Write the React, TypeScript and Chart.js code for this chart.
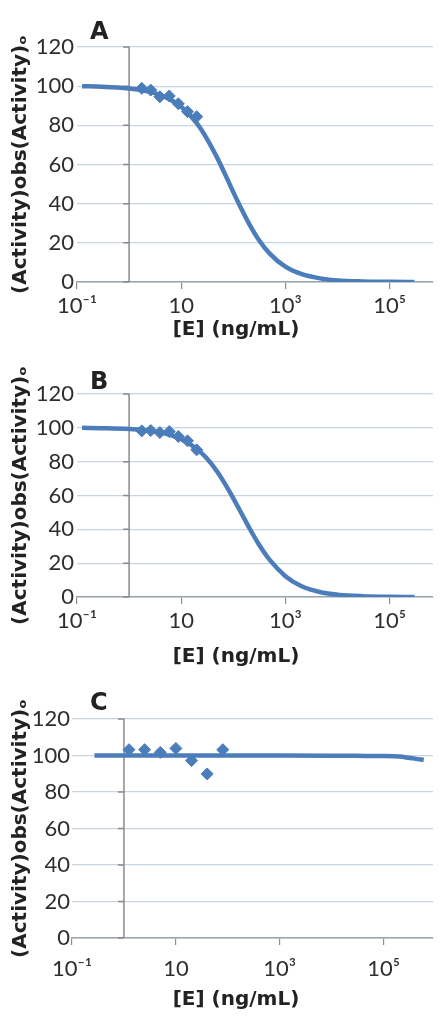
import { useEffect, useRef } from "react"
import { Chart, registerables, type ChartConfiguration, type Plugin } from "chart.js"

Chart.register(...registerables)

const BLUE = "#4a7dba"
const FONT = "Lato, 'Open Sans', 'DejaVu Sans', sans-serif"
const TITLE_FONT = "'DejaVu Sans', 'Open Sans', sans-serif"

// measured points, [E] in ng/mL
const concAB = [1.75, 2.6, 3.9, 5.9, 8.8, 13.2, 19.8]
const activityA = [98.9, 98, 94.6, 95, 91, 87, 84.4]
const activityB = [98.2, 98.4, 97.2, 97.8, 94.9, 92.3, 87]
const concC = [1.25, 2.5, 5, 10, 20, 40, 80]
const activityC = [103.2, 103.2, 101.7, 103.9, 97.2, 89.9, 103.2]

// fitted curves
const fitConcAB = [0.125, 0.3, 1, 2, 3, 5, 10, 20, 30, 50, 80, 100, 150, 200, 300, 500, 1000, 2000, 5000, 10000, 30000, 100000, 300000]
const fitA = [100, 99.7, 98.8, 97.7, 96.6, 94.4, 89.5, 81, 73.9, 63, 51.5, 45.9, 36.2, 29.8, 22, 14.5, 7.8, 4.1, 1.7, 0.8, 0.3, 0.1, 0]
const fitB = [100, 99.8, 99.3, 98.6, 97.9, 96.6, 93.3, 87.5, 82.4, 73.7, 63.6, 58.3, 48.3, 41.2, 31.8, 21.9, 12.3, 6.5, 2.7, 1.4, 0.5, 0.1, 0]
const fitConcC = [0.27, 1, 10, 100, 1000, 10000, 30000, 100000, 200000, 300000, 400000, 590000]
const fitC = [100, 100, 100, 100, 100, 99.9, 99.8, 99.7, 99.4, 98.8, 98.3, 97.5]

const xTickValues = [0.1, 10, 1000, 100000]
const xTickLabels = ["10⁻¹", "10", "10³", "10⁵"]

const yTitle = "(Activity)obs(Activity)ₒ"
const xTitle = "[E] (ng/mL)"

const toPoints = (xs: number[], ys: number[]) => xs.map((x, i) => ({ x, y: ys[i] }))

// vertical axis crosses the x axis at [E] = 1
const crossAxis: Plugin = {
  id: "crossAxis",
  beforeDatasetsDraw(chart) {
    const { ctx } = chart
    const x = chart.scales.x
    const y = chart.scales.y
    const px = x.getPixelForValue(1)
    ctx.save()
    ctx.strokeStyle = "#8a8a8a"
    ctx.lineWidth = 1.5
    ctx.beginPath()
    ctx.moveTo(px, y.getPixelForValue(0))
    ctx.lineTo(px, y.getPixelForValue(120))
    ctx.stroke()
    ctx.beginPath()
    y.ticks.forEach((t) => {
      const py = y.getPixelForValue(t.value)
      ctx.moveTo(px - 6, py)
      ctx.lineTo(px, py)
    })
    ctx.stroke()
    ctx.restore()
  },
}

// x title sits off-centre in the original, so draw it by hand
const xTitlePlugin: Plugin = {
  id: "xTitle",
  afterDraw(chart, _args, opts: any) {
    const { ctx, chartArea } = chart
    ctx.save()
    ctx.font = `bold 20px ${TITLE_FONT}`
    ctx.fillStyle = "#222"
    ctx.textAlign = "center"
    ctx.textBaseline = "middle"
    ctx.fillText(xTitle, opts.centerX, chartArea.bottom + opts.offset)
    ctx.restore()
  },
}

interface PanelProps {
  letter: string
  top: number
  height: number
  padTop: number
  yWidth: number
  yLabelPad: number
  xHeight: number
  xTickPad: number
  titleOffset: number
  xMax: number
  letterTop: number
  concs: number[]
  values: number[]
  fitConcs: number[]
  fitValues: number[]
}

function Panel(p: PanelProps) {
  const canvasRef = useRef<HTMLCanvasElement>(null)

  useEffect(() => {
    if (!canvasRef.current) return
    const config: ChartConfiguration<"scatter"> = {
      type: "scatter",
      data: {
        datasets: [
          {
            data: toPoints(p.concs, p.values),
            pointStyle: "rectRot",
            pointRadius: 6,
            pointBorderWidth: 1,
            backgroundColor: BLUE,
            borderColor: BLUE,
            showLine: false,
          },
          {
            data: toPoints(p.fitConcs, p.fitValues),
            showLine: true,
            pointRadius: 0,
            borderWidth: 4.5,
            borderColor: BLUE,
            backgroundColor: BLUE,
            cubicInterpolationMode: "monotone",
          },
        ],
      },
      options: {
        animation: false,
        responsive: true,
        maintainAspectRatio: false,
        layout: { padding: { top: p.padTop, left: 0, right: 0, bottom: 0 } },
        plugins: {
          legend: { display: false },
          tooltip: { enabled: false },
          // @ts-ignore custom plugin options
          xTitle: { centerX: 236, offset: p.titleOffset },
        },
        scales: {
          x: {
            type: "logarithmic",
            min: 0.1,
            max: p.xMax,
            afterBuildTicks: (s) => {
              s.ticks = xTickValues.map((v) => ({ value: v }))
            },
            afterFit: (s) => {
              s.height = p.xHeight
            },
            ticks: {
              autoSkip: false,
              maxRotation: 0,
              padding: p.xTickPad,
              color: "#2e2e2e",
              font: { family: FONT, size: 22 },
              callback: (_v, i) => xTickLabels[i],
            },
            grid: { drawOnChartArea: false, drawTicks: true, tickLength: 7, color: "#8a8a8a", lineWidth: 1.2 },
            border: { color: "#9aa3ad", width: 1.5 },
          },
          y: {
            min: 0,
            max: 120,
            afterFit: (s) => {
              s.width = p.yWidth
            },
            ticks: {
              stepSize: 20,
              padding: p.yLabelPad,
              color: "#2e2e2e",
              font: { family: FONT, size: 22 },
            },
            grid: { color: "#c9d4e1", lineWidth: 1.2, drawTicks: false },
            border: { display: false },
            title: {
              display: true,
              text: yTitle,
              color: "#222",
              font: { family: TITLE_FONT, size: 20, weight: "bold" },
              padding: { top: 9, bottom: 0 },
            },
          },
        },
      },
      plugins: [crossAxis, xTitlePlugin],
    }
    const chart = new Chart(canvasRef.current, config)
    return () => chart.destroy()
  }, [])

  return (
    <>
      <div style={{ position: "absolute", left: 0, top: p.top, width: 440, height: p.height }}>
        <canvas ref={canvasRef} />
      </div>
      <div
        style={{
          position: "absolute",
          left: 90,
          top: p.letterTop,
          fontFamily: TITLE_FONT,
          fontWeight: "bold",
          fontSize: 24,
          lineHeight: "28px",
          color: "#222",
        }}
      >
        {p.letter}
      </div>
    </>
  )
}

export default function App() {
  useEffect(() => {
    document.body.style.margin = "0"
  }, [])

  return (
    <div style={{ position: "relative", width: 440, height: 1024, overflow: "hidden" }}>
      <Panel letter="A" top={0} height={340} padTop={47} yWidth={77} yLabelPad={3} xHeight={58} xTickPad={4} titleOffset={48}
        xMax={680000} letterTop={17} concs={concAB} values={activityA} fitConcs={fitConcAB} fitValues={fitA} />
      <Panel letter="B" top={340} height={340} padTop={54} yWidth={77} yLabelPad={3} xHeight={83} xTickPad={4} titleOffset={60}
        xMax={680000} letterTop={367} concs={concAB} values={activityB} fitConcs={fitConcAB} fitValues={fitB} />
      <Panel letter="C" top={680} height={344} padTop={39} yWidth={72} yLabelPad={2} xHeight={86} xTickPad={11} titleOffset={62}
        xMax={890000} letterTop={688} concs={concC} values={activityC} fitConcs={fitConcC} fitValues={fitC} />
    </div>
  )
}
